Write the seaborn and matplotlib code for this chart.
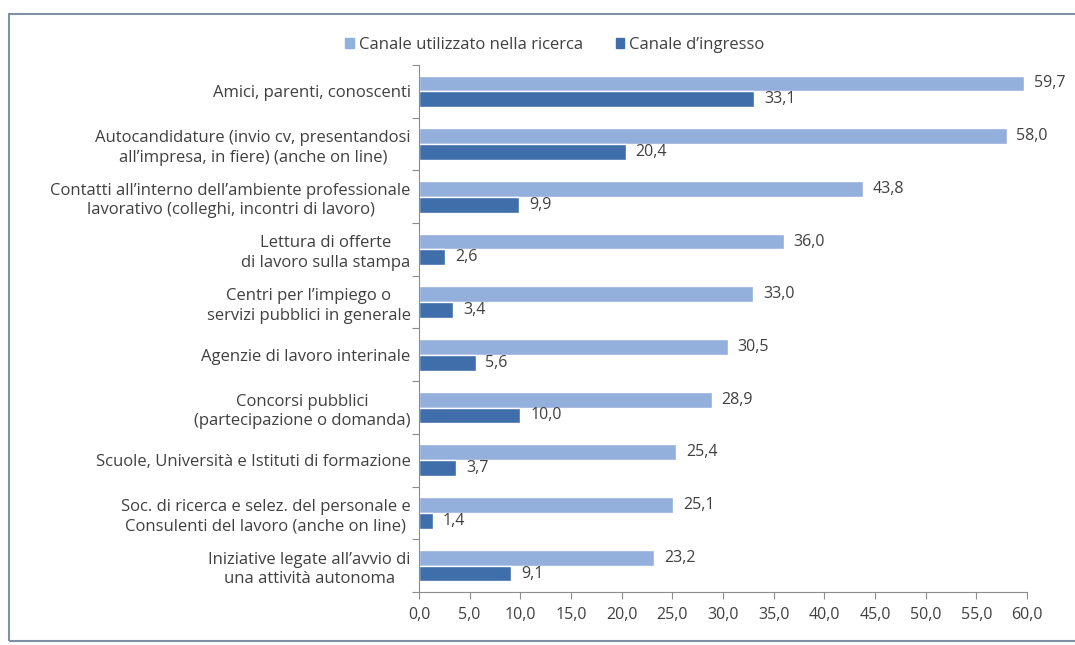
import matplotlib
matplotlib.use("Agg")
import matplotlib.pyplot as plt
import matplotlib.patches as mpatches
from matplotlib.ticker import FixedLocator
import seaborn as sns
import pandas as pd
import numpy as np

categories = [
    "Amici, parenti, conoscenti",
    "Autocandidature (invio cv, presentandosi\nall\u2019impresa, in fiere) (anche on line)",
    "Contatti all\u2019interno dell\u2019ambiente professionale\nlavorativo (colleghi, incontri di lavoro)",
    "Lettura di offerte\ndi lavoro sulla stampa",
    "Centri per l\u2019impiego o\nservizi pubblici in generale",
    "Agenzie di lavoro interinale",
    "Concorsi pubblici\n(partecipazione o domanda)",
    "Scuole, Universit\u00e0 e Istituti di formazione",
    "Soc. di ricerca e selez. del personale e\nConsulenti del lavoro (anche on line)",
    "Iniziative legate all\u2019avvio di\nuna attivit\u00e0 autonoma",
]
ricerca = [59.7, 58.0, 43.8, 36.0, 33.0, 30.5, 28.9, 25.4, 25.1, 23.2]
ingresso = [33.1, 20.4, 9.9, 2.6, 3.4, 5.6, 10.0, 3.7, 1.4, 9.1]
series = ["Canale utilizzato nella ricerca", "Canale d\u2019ingresso"]
x_ticks = [0, 5, 10, 15, 20, 25, 30, 35, 40, 45, 50, 55, 60]

df = pd.DataFrame({
    "canale": categories * 2,
    "valore": ricerca + ingresso,
    "serie": [series[0]] * len(categories) + [series[1]] * len(categories),
})

sns.set_theme(style="white")
plt.rcParams["font.family"] = ["Open Sans", "DejaVu Sans"]
text_col = "#404040"
axis_col = "#8C8C8C"

fig = plt.figure(figsize=(10.75, 6.45), dpi=100)
ax = fig.add_axes([419 / 1075, 1 - 592 / 645, (1027 - 419) / 1075, (592 - 65) / 645])

palette = {series[0]: "#93AFDB", series[1]: "#3F6EAB"}
sns.barplot(data=df, y="canale", x="valore", hue="serie", order=categories,
            hue_order=series, palette=palette, orient="h", width=0.6,
            saturation=1, ax=ax, legend=False)

def fmt(v):
    return f"{v:.1f}".replace(".", ",")

for cont in ax.containers:
    ax.bar_label(cont, labels=[fmt(v) for v in cont.datavalues], padding=7,
                 fontsize=11.5, color=text_col)

ax.set_xlim(0, 60)
ax.set_ylim(len(categories) - 0.5, -0.5)
ax.set_xlabel("")
ax.set_ylabel("")
ax.xaxis.set_major_locator(FixedLocator(x_ticks))
ax.set_xticklabels([fmt(t) for t in x_ticks], fontsize=11.5, color=text_col)
ax.set_yticks(range(len(categories)))
ax.set_yticklabels(categories, fontsize=12, color=text_col, ha="right",
                   multialignment="center", linespacing=1.3)
ax.tick_params(axis="y", which="major", length=0, pad=6)
ax.yaxis.set_minor_locator(FixedLocator(np.arange(-0.5, len(categories), 1.0)))
ax.tick_params(axis="y", which="minor", length=5, width=0.8, color=axis_col,
               direction="out", left=True)
ax.tick_params(axis="x", which="major", length=5, width=0.8, color=axis_col,
               direction="out", bottom=True, pad=6)

for side in ["top", "right"]:
    ax.spines[side].set_visible(False)
for side in ["left", "bottom"]:
    ax.spines[side].set_color(axis_col)
    ax.spines[side].set_linewidth(0.8)

handles = [mpatches.Patch(color=palette[s], label=s) for s in series]
fig.legend(handles=handles, loc="center", bbox_to_anchor=(555 / 1075, 1 - 45 / 645), ncol=2,
           frameon=False, fontsize=12, handlelength=0.5, handleheight=0.5,
           handletextpad=0.3, columnspacing=2.0, labelcolor=text_col)

# chart frame
fig.patches.append(mpatches.Rectangle((9 / 1075, 1 - 641 / 645), 1.2, (641 - 14) / 645,
                                      transform=fig.transFigure, fill=False,
                                      edgecolor="#7F8FA6", linewidth=1.5))

fig.savefig("out.png", dpi=100)
